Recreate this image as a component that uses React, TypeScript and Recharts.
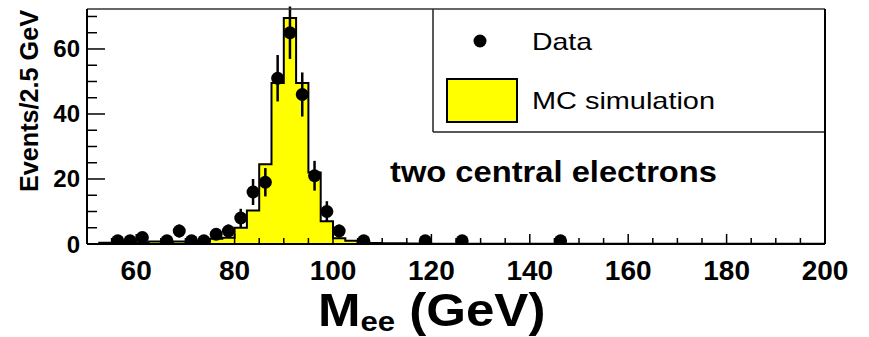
import React from 'react';
import {
  ComposedChart,
  Area,
  Scatter,
  ErrorBar,
  XAxis,
  YAxis,
  ReferenceLine,
  Customized,
} from 'recharts';

// MC simulation histogram: lower bin edges (2.5 GeV bins) and contents
const binLow = [
  50, 52.5, 55, 57.5, 60, 62.5, 65, 67.5, 70, 72.5,
  75, 77.5, 80, 82.5, 85, 87.5, 90, 92.5, 95, 97.5,
  100, 102.5, 105, 107.5, 110, 112.5, 115, 117.5, 120, 122.5,
  125, 127.5, 130, 132.5, 135, 137.5, 140, 142.5, 145, 147.5,
  150, 152.5, 155, 157.5, 160, 162.5, 165, 167.5, 170, 172.5,
  175, 177.5, 180, 182.5, 185, 187.5, 190, 192.5, 195, 197.5,
];
const mcValues = [
  0, 0.4, 0.4, 0.5, 0.5, 0.8, 0.6, 0.8, 0.7, 0.9,
  1.6, 1.9, 5, 10.3, 24.5, 49.5, 69.5, 49.5, 22, 7,
  1.8, 1.0, 0.4, 0.3, 0.2, 0.2, 0.15, 0.15, 0.1, 0.1,
  0.1, 0.1, 0.1, 0.1, 0.1, 0.1, 0.1, 0.1, 0.1, 0.1,
  0.08, 0.08, 0.08, 0.08, 0.06, 0.06, 0.06, 0.06, 0.05, 0.05,
  0.05, 0.05, 0.05, 0.05, 0.05, 0.05, 0.04, 0.04, 0.04, 0.04,
];
const histEnd = 200;

// Data points: bin centres, counts and statistical errors
const dataMass = [
  56.25, 58.75, 61.25, 66.25, 68.75, 71.25, 73.75, 76.25, 78.75, 81.25,
  83.75, 86.25, 88.75, 91.25, 93.75, 96.25, 98.75, 101.25, 106.25, 118.75,
  126.25, 146.25,
];
const dataCounts = [
  1, 1, 2, 1, 4, 1, 1, 3, 4, 8,
  16, 19, 51, 65, 46, 21, 10, 4, 1, 1,
  1, 1,
];
const dataErrors = [
  1, 1, 1.41, 1, 2, 1, 1, 1.73, 2, 2.83,
  4, 4.36, 7.14, 8.06, 6.78, 4.58, 3.16, 2, 1, 1,
  1, 1,
];

const xTicks = [
  50, 55, 60, 65, 70, 75, 80, 85, 90, 95, 100, 105, 110, 115, 120, 125, 130,
  135, 140, 145, 150, 155, 160, 165, 170, 175, 180, 185, 190, 195, 200,
];
const yTicks = [0, 5, 10, 15, 20, 25, 30, 35, 40, 45, 50, 55, 60, 65, 70];
const xDomain = [50, 200];
const yDomain = [0, 72.3];

const mcRows = binLow
  .map((x, i) => ({ x, mc: mcValues[i] }))
  .concat([{ x: histEnd, mc: mcValues[mcValues.length - 1] }]);
const dataRows = dataMass.map((x, i) => ({ x, n: dataCounts[i], err: dataErrors[i] }));

const FONT = '"Liberation Sans", Arial, Helvetica, sans-serif';

const XTick = (props: any) => {
  const { x, y, payload } = props;
  const v = payload.value;
  const major = v % 20 === 0;
  return (
    <g>
      <line x1={x} x2={x} y1={y} y2={y - (major ? 10 : 6)} stroke="#000" strokeWidth={1.5} />
      {major ? (
        <text x={x} y={y + 36} textAnchor="middle" fontSize={28} fontWeight="bold" fontFamily={FONT} fill="#000">
          {v}
        </text>
      ) : null}
    </g>
  );
};

const YTick = (props: any) => {
  const { x, y, payload } = props;
  const v = payload.value;
  const major = v % 20 === 0;
  return (
    <g>
      <line x1={x} x2={x + (major ? 18 : 10)} y1={y} y2={y} stroke="#000" strokeWidth={1.5} />
      {major ? (
        <text x={x - 7} y={y + 8.5} textAnchor="end" fontSize={24} fontWeight="bold" fontFamily={FONT} fill="#000">
          {v}
        </text>
      ) : null}
    </g>
  );
};

const DataDot = (props: any) => {
  const { cx, cy } = props;
  if (cx == null || cy == null) return null;
  return <circle cx={cx} cy={cy} r={6.5} fill="#000" />;
};

const Decorations = () => (
  <g fontFamily={FONT} fill="#000">
    {/* legend box */}
    <line x1={433} x2={433} y1={9} y2={132} stroke="#222" strokeWidth={1.5} />
    <line x1={433} x2={825} y1={132} y2={132} stroke="#222" strokeWidth={1.5} />
    <circle cx={480} cy={41} r={6.5} fill="#000" />
    <text x={532} y={49.5} fontSize={24} textLength={60} lengthAdjust="spacingAndGlyphs">Data</text>
    <rect x={447} y={79} width={70} height={43} fill="#ffff00" stroke="#000" strokeWidth={2} />
    <text x={532} y={108.5} fontSize={24} textLength={183} lengthAdjust="spacingAndGlyphs">MC simulation</text>
    {/* annotation */}
    <text x={390} y={182} fontSize={29} fontWeight="bold" textLength={327} lengthAdjust="spacingAndGlyphs">
      two central electrons
    </text>
    {/* axis titles */}
    <text
      x={29}
      y={101}
      transform="rotate(-90 29 101)"
      textAnchor="middle"
      dominantBaseline="central"
      fontSize={25}
      fontWeight="bold"
      textLength={182}
      lengthAdjust="spacingAndGlyphs"
    >
      Events/2.5 GeV
    </text>
    <g transform="translate(318 0) scale(1.11 1) translate(-318 0)">
      <text x={318} y={326} fontSize={46} fontWeight="bold">
        M<tspan fontSize={28} dy={5}>ee</tspan>
        <tspan fontSize={46} dy={-5}> (GeV)</tspan>
      </text>
    </g>
  </g>
);

export default function App() {
  return (
    <div style={{ position: 'absolute', left: 0, top: 0, background: '#fff' }}>
      <ComposedChart
        width={869}
        height={337}
        data={mcRows}
        margin={{ top: 9, right: 44, left: 27, bottom: 53 }}
      >
        <Area
          type="stepAfter"
          dataKey="mc"
          stroke="#000"
          strokeWidth={2}
          fill="#ffff00"
          fillOpacity={1}
          dot={false}
          activeDot={false}
          isAnimationActive={false}
        />
        <Scatter data={dataRows} dataKey="n" shape={DataDot} isAnimationActive={false}>
          <ErrorBar dataKey="err" direction="y" width={0} stroke="#000" strokeWidth={2.5} />
        </Scatter>
        <XAxis
          type="number"
          dataKey="x"
          domain={xDomain}
          ticks={xTicks}
          interval={0}
          allowDataOverflow
          height={40}
          axisLine={{ stroke: '#000', strokeWidth: 2 }}
          tickLine={false}
          tickSize={0}
          tickMargin={0}
          tick={XTick}
        />
        <YAxis
          type="number"
          domain={yDomain}
          ticks={yTicks}
          interval={0}
          allowDataOverflow
          width={60}
          axisLine={{ stroke: '#000', strokeWidth: 2 }}
          tickLine={false}
          tickSize={0}
          tickMargin={0}
          tick={YTick}
        />
        <ReferenceLine y={yDomain[1]} stroke="#333" strokeWidth={1.5} />
        <ReferenceLine x={xDomain[1]} stroke="#000" strokeWidth={2} />
        <Customized component={Decorations} />
      </ComposedChart>
    </div>
  );
}
